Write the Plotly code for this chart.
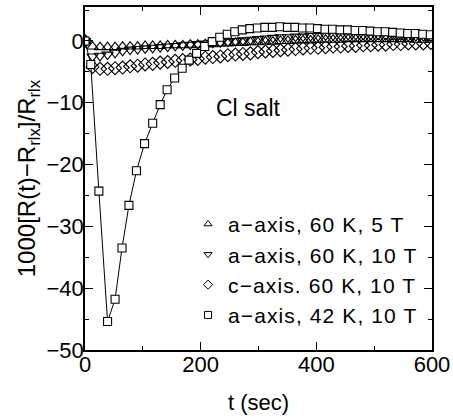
import plotly.graph_objects as go

# time axis shared by the 60 K series (sec)
t_common = [0, 13, 26, 39, 52, 65, 78, 91, 104, 117, 130, 143, 156, 169, 182, 195,
            208, 221, 234, 247, 260, 273, 286, 299, 312, 325, 338, 351, 364, 377,
            390, 403, 416, 429, 442, 455, 468, 481, 494, 507, 520, 533, 546, 559,
            572, 585, 598]

# a-axis, 60 K, 5 T
a60_5T = [0, -0.9, -1.0, -1.0, -1.0, -0.9, -0.9, -0.9, -0.8, -0.8, -0.8, -0.7, -0.7,
          -0.7, -0.6, -0.6, -0.5, -0.5, -0.4, -0.4, -0.3, -0.3, -0.2, -0.2, -0.1, -0.1,
          0.0, 0.0, 0.1, 0.1, 0.1, 0.2, 0.2, 0.2, 0.2, 0.3, 0.3, 0.3, 0.3, 0.3, 0.3,
          0.3, 0.3, 0.3, 0.2, 0.2, 0.2]

# a-axis, 60 K, 10 T
a60_10T = [0, -2.5, -2.4, -2.2, -1.9, -1.6, -1.4, -1.3, -1.2, -1.1, -1.0, -0.9, -0.8,
           -0.7, -0.6, -0.5, -0.4, -0.3, -0.2, -0.1, 0.0, 0.1, 0.2, 0.3, 0.4, 0.5,
           0.6, 0.6, 0.7, 0.7, 0.8, 0.8, 0.9, 0.9, 0.9, 1.0, 1.0, 1.0, 1.0, 1.0, 0.9,
           0.9, 0.9, 0.8, 0.8, 0.8, 0.7]

# c-axis, 60 K, 10 T
c60_10T = [0, -4.2, -4.5, -4.5, -4.4, -4.3, -4.1, -4.0, -3.8, -3.7, -3.5, -3.4, -3.2,
           -3.1, -3.0, -2.9, -2.7, -2.6, -2.5, -2.3, -2.2, -2.1, -2.0, -1.8, -1.7,
           -1.6, -1.5, -1.4, -1.3, -1.2, -1.1, -1.1, -1.0, -0.9, -0.9, -0.8, -0.8,
           -0.7, -0.7, -0.6, -0.6, -0.5, -0.5, -0.4, -0.4, -0.4, -0.3]

# a-axis, 42 K, 10 T
t_42 = [0, 10, 24, 39, 52, 64, 76, 89, 103, 117, 130, 142, 155, 168, 180, 193, 207,
        220, 233, 246, 259, 272, 285, 298, 311, 324, 337, 350, 363, 376, 389, 402,
        415, 428, 441, 454, 467, 480, 493, 506, 519, 532, 545, 558, 571, 584, 597]
a42_10T = [0, -3.8, -24.3, -45.4, -41.8, -33.5, -26.6, -21.0, -16.6, -13.3, -10.3,
           -7.9, -6.0, -4.4, -3.1, -2.0, -0.9, -0.1, 0.6, 1.1, 1.5, 1.8, 2.0, 2.1,
           2.2, 2.2, 2.3, 2.2, 2.2, 2.1, 2.1, 2.0, 1.9, 1.9, 1.8, 1.8, 1.7, 1.7, 1.6,
           1.5, 1.5, 1.4, 1.3, 1.2, 1.2, 1.1, 1.0]

labels = ["a\u2212axis, 60 K, 5 T", "a\u2212axis, 60 K, 10 T",
          "c\u2212axis. 60 K, 10 T", "a\u2212axis, 42 K, 10 T"]

x_ticks = [0, 200, 400, 600]
y_ticks = [0, -10, -20, -30, -40, -50]

FONT = "Liberation Sans, Arial, Helvetica, sans-serif"
mline = dict(color="black", width=1.1)

fig = go.Figure()
fig.add_trace(go.Scatter(x=t_common, y=c60_10T, mode="markers", showlegend=False,
                         marker=dict(symbol="diamond-open", size=10, line=mline, color="black")))
fig.add_trace(go.Scatter(x=t_common, y=a60_10T, mode="markers", showlegend=False,
                         marker=dict(symbol="triangle-down-open", size=10, line=mline, color="black")))
fig.add_trace(go.Scatter(x=t_common, y=a60_5T, mode="markers", showlegend=False,
                         marker=dict(symbol="triangle-up-open", size=10, line=mline, color="black")))
fig.add_trace(go.Scatter(x=t_42, y=a42_10T, mode="lines+markers", showlegend=False,
                         line=dict(color="black", width=1),
                         marker=dict(symbol="square", size=8, color="white",
                                     line=dict(color="black", width=1.1))))

# legend-only entries
leg_symbols = ["triangle-up-open", "triangle-down-open", "diamond-open", "square-open"]
for lab, sym in zip(labels, leg_symbols):
    fig.add_trace(go.Scatter(x=[None], y=[None], mode="markers",
                             name='<span style="letter-spacing:1.1px">' + lab + '</span>',
                             marker=dict(symbol=sym, size=7, color="black",
                                         line=dict(color="black", width=1))))

fig.add_annotation(x=282, y=-10.8, xref="x", yref="y", text="Cl salt", showarrow=False,
                   font=dict(size=23, color="black", family=FONT))

axis_common = dict(showline=True, linecolor="black", linewidth=1.5, mirror="ticks",
                   ticks="inside", ticklen=8, tickwidth=1, tickcolor="black",
                   showgrid=False, zeroline=False, automargin=False,
                   tickfont=dict(size=22, color="black", family=FONT))

fig.update_layout(
    width=453, height=418,
    margin=dict(l=85, r=21, t=7, b=68),
    paper_bgcolor="white", plot_bgcolor="white",
    font=dict(family=FONT, color="black"),
    xaxis=dict(range=[0, 600], tickvals=x_ticks, ticklabelstandoff=-6,
               minor=dict(dtick=100, ticklen=4, ticks="inside", tickcolor="black", showgrid=False),
               title=dict(text="t (sec)", font=dict(size=22), standoff=18),
               **axis_common),
    yaxis=dict(range=[-50, 5.5], tickvals=y_ticks, ticklabelstandoff=-5,
               minor=dict(dtick=5, ticklen=4, ticks="inside", tickcolor="black", showgrid=False),
               title=dict(text="1000[R(t)\u2212R<sub>rlx</sub>]/R<sub>rlx</sub>",
                          font=dict(size=24), standoff=4),
               **axis_common),
    legend=dict(x=0.297, y=0.426, xanchor="left", yanchor="top",
                bgcolor="rgba(0,0,0,0)", font=dict(size=21, family=FONT),
                itemsizing="trace", tracegroupgap=0),
)

fig.write_html("out.html", config={"displayModeBar": False},
               post_script="document.body.style.margin='0';document.body.style.overflow='hidden';")
